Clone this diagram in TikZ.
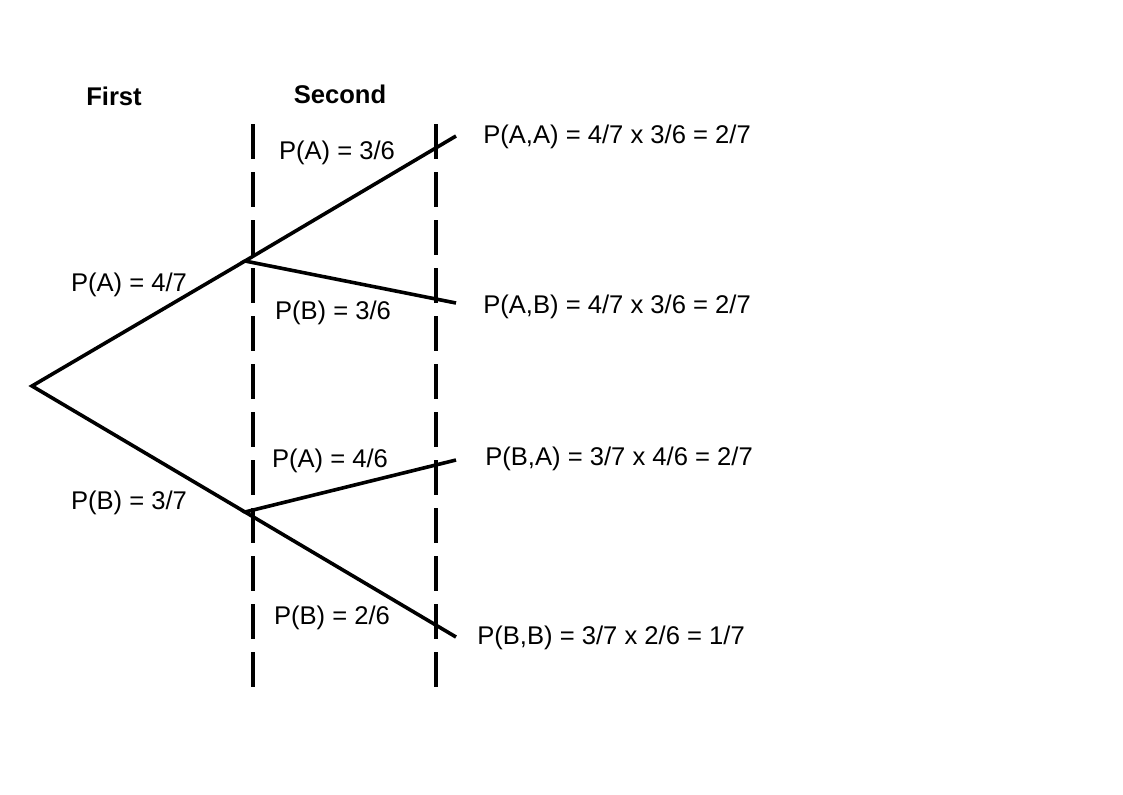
\documentclass[tikz,border=0pt]{standalone}
\usepackage{fontspec}
\setmainfont{Liberation Sans}
\usepackage{tikz}
\usetikzlibrary{positioning}

\begin{document}
\begin{tikzpicture}[
  x=0.75pt,y=-0.75pt,
  every node/.style={font=\fontsize{19.2}{23}\selectfont,inner sep=0pt},
  branch/.style={line width=2.7pt},
  stage/.style={line width=2.7pt,dash pattern=on 26pt off 10pt},
  head/.style={font=\fontsize{19.2}{23}\selectfont\bfseries},
  result/.style={anchor=west}
]
  \useasboundingbox (0,0) rectangle (1123,794);

  % Column headings
  \node[head] (first_lbl)  at (114,96) {First};
  \node[head] (second_lbl) at (340,94) {Second};

  % Stage separators
  \coordinate (S1top) at (253,124);
  \coordinate (S1bot) at (253,691);
  \coordinate (S2top) at (436,124);
  \coordinate (S2bot) at (436,691);
  \draw[stage] (S1top) -- (S1bot);
  \draw[stage] (S2top) -- (S2bot);

  % Tree points
  \coordinate (root) at (32,386);
  \coordinate (nA)   at (245,261);
  \coordinate (nB)   at (245,512);
  \coordinate (nAA)  at (456,136);
  \coordinate (nAB)  at (456,303);
  \coordinate (nBA)  at (456,460);
  \coordinate (nBB)  at (456,637);

  % Branches
  \draw[branch] (nA) -- (root) -- (nB);
  \draw[branch] (nAA) -- (nA) -- (nAB);
  \draw[branch] (nBA) -- (nB) -- (nBB);

  % Branch probabilities
  \node (pA1)  at (129,285) {P(A) = 4/7};
  \node (pB1)  at (129,503) {P(B) = 3/7};
  \node (pAA)  at (337,153) {P(A) = 3/6};
  \node (pAB)  at (333,313) {P(B) = 3/6};
  \node (pBA)  at (330,461) {P(A) = 4/6};
  \node (pBB)  at (332,618) {P(B) = 2/6};

  % Joint probabilities
  \node[result] (rAA) at (483,137) {P(A,A) = 4/7 x 3/6 = 2/7};
  \node[result] (rAB) at (483,307) {P(A,B) = 4/7 x 3/6 = 2/7};
  \node[result] (rBA) at (485,459) {P(B,A) = 3/7 x 4/6 = 2/7};
  \node[result] (rBB) at (477,638) {P(B,B) = 3/7 x 2/6 = 1/7};
\end{tikzpicture}
\end{document}
